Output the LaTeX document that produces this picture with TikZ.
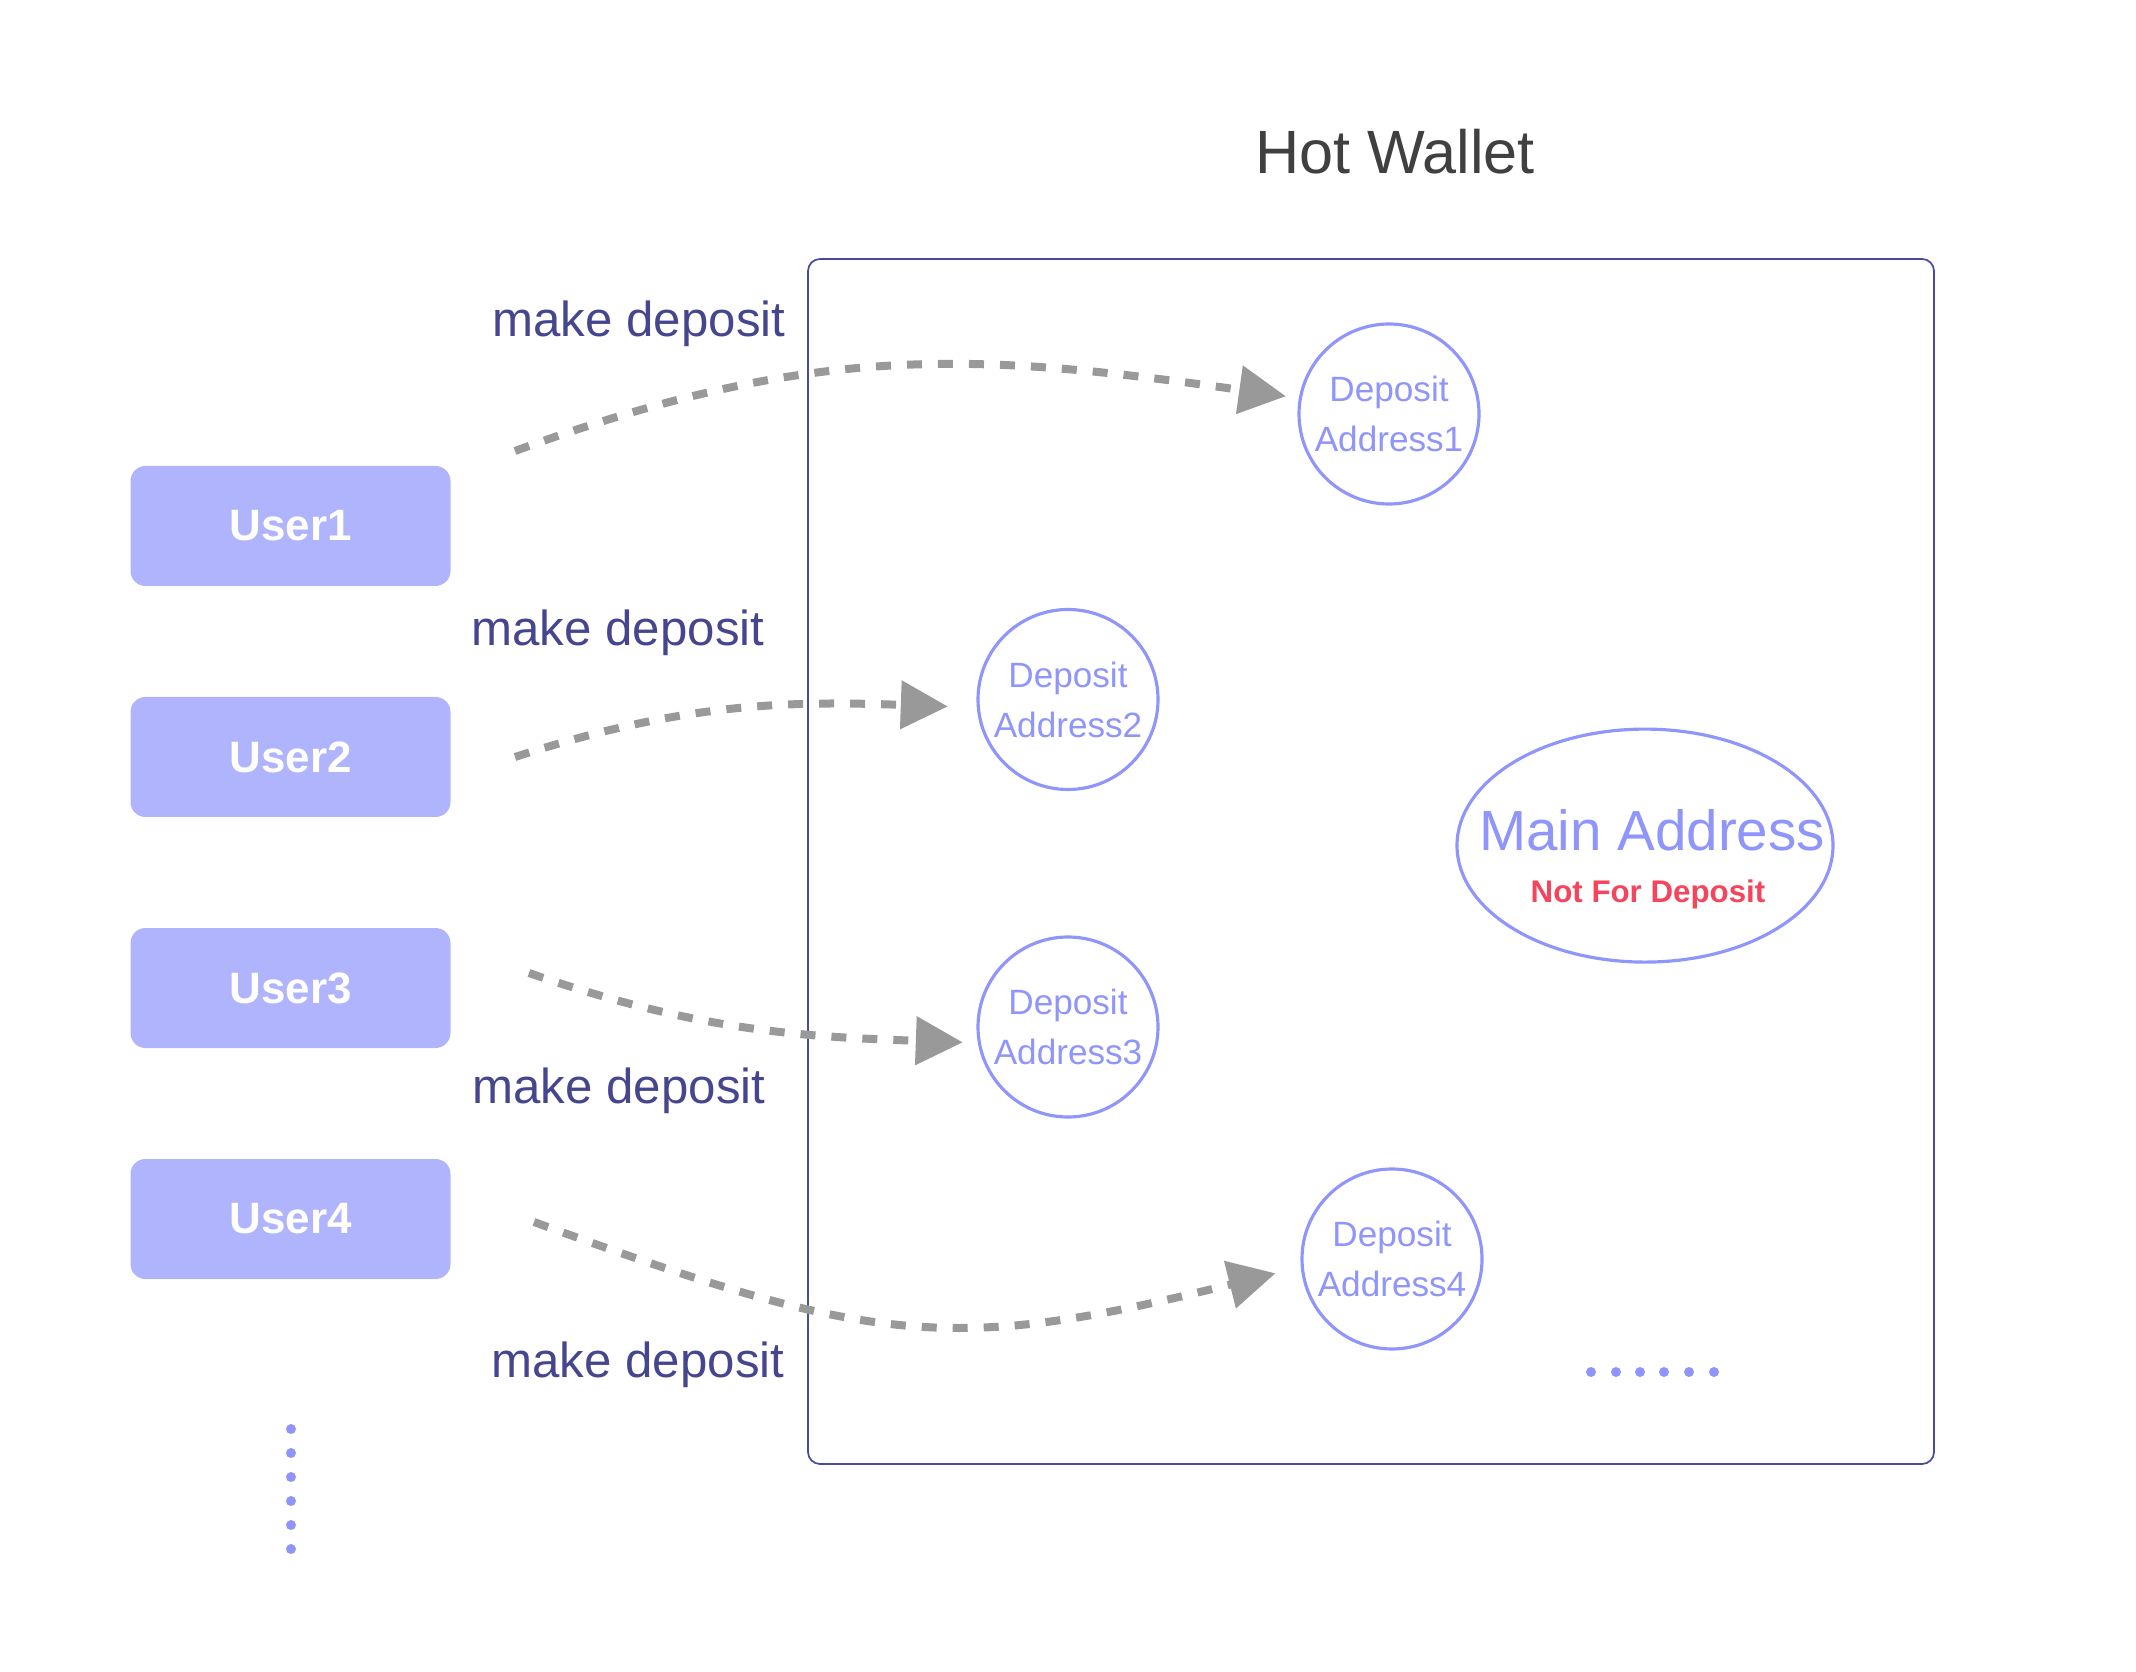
\documentclass[tikz,border=0pt]{standalone}
\usepackage{fontspec}
\setmainfont{Liberation Sans}
\usepackage{tikz}
\usetikzlibrary{shapes,arrows.meta,positioning}

\definecolor{userfill}{HTML}{B0B4FD}
\definecolor{addr}{HTML}{8F95FB}
\definecolor{label}{HTML}{46468F}
\definecolor{frame}{HTML}{4B4B9E}
\definecolor{flowgray}{HTML}{999999}
\definecolor{warn}{HTML}{F5455C}
\definecolor{titlegray}{HTML}{404040}

\begin{document}
\begin{tikzpicture}[
			user/.style={rectangle, rounded corners=0.15cm, fill=userfill, text=white, font=\fontsize{12.5}{15}\selectfont\bfseries, minimum width=3.2cm, minimum height=1.2cm, outer sep=0},
			address/.style={circle, draw=addr, line width=0.9pt, text=addr, minimum size=1.8cm, inner sep=0, align=center, font=\fontsize{10}{14.2}\selectfont},
			mainaddr/.style={ellipse, draw=addr, line width=0.9pt, minimum width=3.76cm, minimum height=2.33cm, inner sep=0},
			deposit/.style={anchor=base east, inner sep=0, text=label, font=\fontsize{14}{17}\selectfont},
			flow/.style={draw=flowgray, line width=0.08cm, dash pattern=on 0.15cm off 0.16cm, -{Triangle[length=0.47cm, width=0.47cm]}},
			wallet/.style={rectangle, draw=frame, line width=0.5pt, rounded corners=0.12cm, minimum width=11.26cm, minimum height=12.05cm}
		]
		\useasboundingbox (0,0) rectangle (21.36,-16.72);

		% Hot wallet
		\node[wallet] (wallet) at (13.71,-8.615) {};
		\node[anchor=base, text=titlegray, font=\fontsize{17.4}{20}\selectfont] (title) at (13.95,-1.74) {Hot Wallet};

		% Users
		\node[user] (user1) at (2.905,-5.26) {User1};
		\node[user, below=1.11cm of user1] (user2) {User2};
		\node[user, below=1.11cm of user2] (user3) {User3};
		\node[user, below=1.11cm of user3] (user4) {User4};
		\fill[addr] (2.91,-14.29) circle (0.05) (2.91,-14.53) circle (0.05) (2.91,-14.77) circle (0.05)
			(2.91,-15.01) circle (0.05) (2.91,-15.25) circle (0.05) (2.91,-15.49) circle (0.05);

		% Addresses
		\node[address] (da1) at (13.89,-4.14) {Deposit\\Address1};
		\node[address] (da2) at (10.68,-6.995) {Deposit\\Address2};
		\node[address] (da3) at (10.68,-10.27) {Deposit\\Address3};
		\node[address] (da4) at (13.92,-12.59) {Deposit\\Address4};
		\node[mainaddr] (main) at (16.45,-8.456) {};
		\node[anchor=base, text=addr, font=\fontsize{16.1}{19}\selectfont] (maintxt) at ([xshift=0.07cm, yshift=-0.05cm]main.center) {Main Address};
		\node[anchor=base, text=warn, font=\fontsize{8.9}{11}\selectfont\bfseries] (notdep) at ([xshift=0.03cm, yshift=-0.57cm]main.center) {Not For Deposit};
		\fill[addr] (15.91,-13.72) circle (0.05) (16.16,-13.72) circle (0.05) (16.40,-13.72) circle (0.05)
			(16.64,-13.72) circle (0.05) (16.89,-13.72) circle (0.05) (17.14,-13.72) circle (0.05);

		% Deposits
		\coordinate (from1) at (5.15,-4.51);
		\coordinate (from2) at (5.15,-7.57);
		\coordinate (from3) at (5.29,-9.73);
		\coordinate (from4) at (5.34,-12.22);
		\draw[flow, shorten >=0.13cm, looseness=1.05] (from1) to[out=20, in=172] (da1.170);
		\draw[flow, shorten >=0.29cm] (from2) to[out=18, in=178] (da2.185);
		\draw[flow, shorten >=0.15cm] (from3) to[out=-19, in=178] (da3.190);
		\draw[flow, shorten >=0.26cm, looseness=1.2] (from4) to[out=-20, in=-166] (da4.185);
		\node[deposit] (lbl1) at (7.86,-3.37) {make deposit};
		\node[deposit] (lbl2) at (7.65,-6.46) {make deposit};
		\node[deposit] (lbl3) at (7.66,-11.03) {make deposit};
		\node[deposit] (lbl4) at (7.85,-13.77) {make deposit};

	\end{tikzpicture}
\end{document}
